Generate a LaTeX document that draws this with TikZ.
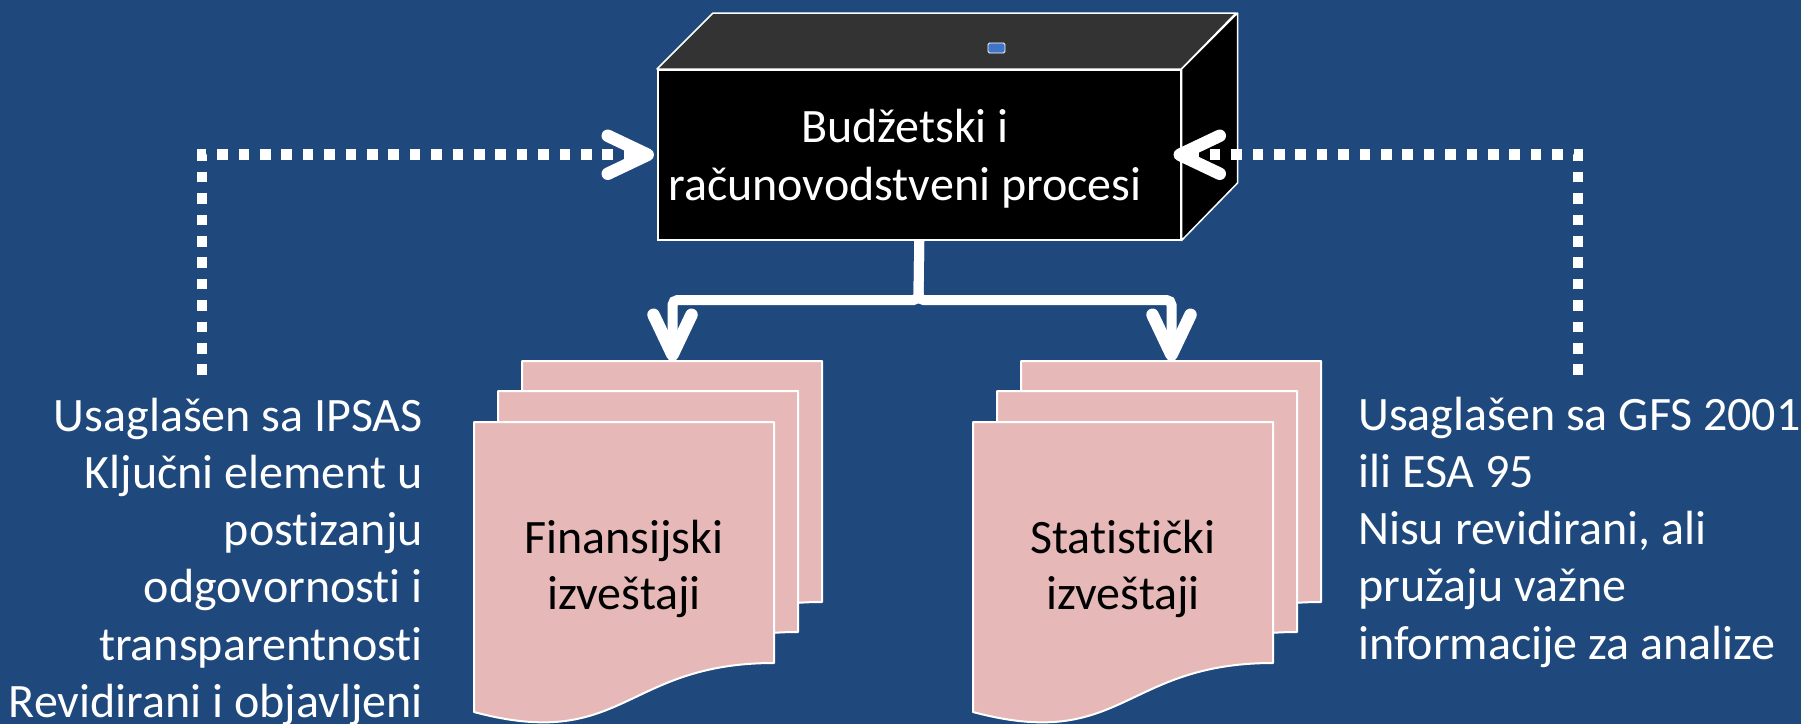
\documentclass[tikz,border=0pt]{standalone}
\usepackage{fontspec}
\setmainfont{Carlito}[Ligatures={NoCommon}]
\usetikzlibrary{arrows.meta}
\definecolor{bg}{HTML}{1F497D}
\definecolor{sheet}{HTML}{E6B9B8}
\definecolor{topface}{HTML}{333333}
\definecolor{iconblue}{HTML}{3F74C8}
\tikzset{
  chev/.tip={Straight Barb[length=40pt,width=38pt,line width=12.5pt,round]},
  conn/.style={white, line width=10pt, rounded corners=5pt, -chev},
  dotconn/.style={white, line width=10.7pt, dash pattern=on 10.7pt off 10.7pt, -chev},
  sheetstyle/.style={draw=white, line width=2pt, fill=sheet, line join=round},
  faceline/.style={draw=white, line width=1.5pt, line join=round},
  lbl/.style={inner sep=0pt, text=white},
  doclbl/.style={inner sep=0pt, text=black, anchor=base},
}
\newcommand{\docsheet}[2]{\path[sheetstyle] (#1,#2) -- ({#1+300},#2) -- ({#1+300},{#2+241}) .. controls ({#1+150},{#2+241}) and ({#1+150},{#2+330}) .. (#1,{#2+290}) -- cycle;}
\begin{document}
\begin{tikzpicture}[x=1pt,y=-1pt]
\useasboundingbox (0,0) rectangle (1801,724);
\fill[bg] (0,0) rectangle (1801,724);

% process box
\node[draw=white, line width=1.5pt, fill=black, minimum width=523pt, minimum height=170pt,
      inner sep=0pt, anchor=north west] (proc) at (657,69) {};
\path[faceline, fill=topface] (proc.north west) -- ++(56,-56) -- ++(523,0) -- (proc.north east) -- cycle;
\path[faceline, fill=black] (proc.north east) -- ++(56,-56) -- ++(0,170) -- (proc.south east) -- cycle;
\draw[white, line width=0.8pt, fill=iconblue, rounded corners=1.5pt] (988,43) rectangle (1005,53);
\node[lbl, anchor=base] (proctext) at (905,142)
  {\fontsize{48}{58}\selectfont\begin{tabular}[t]{@{}c@{}}Budžetski i\\računovodstveni procesi\end{tabular}};

% document stacks
\docsheet{522}{361}
\docsheet{498}{391}
\docsheet{474}{422}
\docsheet{1021}{361}
\docsheet{997}{391}
\docsheet{973}{422}
\coordinate (finback) at (672.5,361);
\coordinate (statback) at (1171.5,361);
\node[doclbl] (fin) at (624,553)
  {\fontsize{48}{56}\selectfont\begin{tabular}[t]{@{}c@{}}Finansijski\\izveštaji\end{tabular}};
\node[doclbl] (stat) at (1123,553)
  {\fontsize{48}{56}\selectfont\begin{tabular}[t]{@{}c@{}}Statistički\\izveštaji\end{tabular}};

% solid connectors
\coordinate (split) at (918.5,300);
\draw[conn] (proc.south) -- (split) -| (finback);
\draw[conn] (proc.south) -- (split) -| (statback);

% dotted connectors
\coordinate (lend) at (202,375);
\coordinate (rend) at (1578,375);
\draw[dotconn] (lend) |- ([xshift=-3pt]proc.west);
\draw[dotconn] (rend) |- ([xshift=-8pt]proc.east);

% side texts
\node[lbl, anchor=base east] (ltext) at (423,431)
  {\fontsize{48}{57.3}\selectfont\begin{tabular}[t]{@{}r@{}}Usaglašen sa IPSAS\\Ključni element u\\postizanju\\odgovornosti i\\transparentnosti\\Revidirani i objavljeni\end{tabular}};
\node[lbl, anchor=base west] (rtext) at (1358,430)
  {\fontsize{48}{57.3}\selectfont\begin{tabular}[t]{@{}l@{}}Usaglašen sa GFS 2001\\ili ESA 95\\Nisu revidirani, ali\\pružaju važne\\informacije za analize\end{tabular}};
\end{tikzpicture}
\end{document}
